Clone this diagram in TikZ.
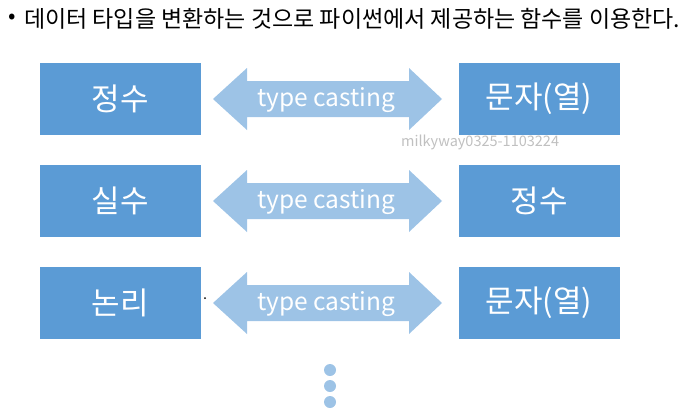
\documentclass[tikz,border=0pt]{standalone}
\usepackage{fontspec}
\setmainfont{Noto Sans CJK KR}
\usetikzlibrary{positioning}
\definecolor{boxblue}{HTML}{5B9BD5}
\definecolor{arrowblue}{HTML}{9DC3E6}
\definecolor{markgray}{HTML}{C0C0C0}

\begin{document}
\begin{tikzpicture}[x=1pt, y=-1pt,
    typebox/.style={fill=boxblue, minimum width=161pt, minimum height=72pt, inner sep=0pt, text=white, font=\fontsize{31}{34}\selectfont},
    castlbl/.style={text=white, font=\fontsize{24.5}{28}\selectfont, inner sep=0pt},
    dotmark/.style={circle, fill=arrowblue, minimum size=12pt, inner sep=0pt},
]
\useasboundingbox (0,0) rectangle (696,418);

% Title line
\node[font=\fontsize{22}{24}\selectfont, inner sep=0pt] (bullet) at (12,19) {•};
\node[anchor=west, font=\fontsize{23}{26}\selectfont, inner sep=0pt] (title) at (24,19) {데이터 타입을 변환하는 것으로 파이썬에서 제공하는 함수를 이용한다.};

% Left column
\node[typebox] (int1) at (120.5,99) {정수};
\node[typebox] (real) at (120.5,201) {실수};
\node[typebox] (bool) at (120.5,303) {논리};

% Right column
\node[typebox] (str1) at (539,99) {문자(열)};
\node[typebox] (int2) at (539,201) {정수};
\node[typebox] (str2) at (539,303) {문자(열)};

% Casting arrows
\fill[arrowblue] (213,99) -- ++(34,-31) -- ++(0,13) -- ++(162,0) -- ++(0,-13) -- ++(33,31)
    -- ++(-33,31) -- ++(0,-13) -- ++(-162,0) -- ++(0,13) -- cycle;
\fill[arrowblue] (213,201) -- ++(34,-31) -- ++(0,13) -- ++(162,0) -- ++(0,-13) -- ++(33,31)
    -- ++(-33,31) -- ++(0,-13) -- ++(-162,0) -- ++(0,13) -- cycle;
\fill[arrowblue] (213,303) -- ++(34,-31) -- ++(0,13) -- ++(162,0) -- ++(0,-13) -- ++(33,31)
    -- ++(-33,31) -- ++(0,-13) -- ++(-162,0) -- ++(0,13) -- cycle;
\node[castlbl] (cast1) at (326,100) {type casting};
\node[castlbl] (cast2) at (326,202) {type casting};
\node[castlbl] (cast3) at (326,304) {type casting};

% Watermark
\node[anchor=west, text=markgray, font=\fontsize{14.5}{16}\selectfont, inner sep=0pt] (mark) at (401,142) {milkyway0325-1103224};

% Stray dot
\fill (205,298) circle (1pt);

% More
\node[dotmark] (more1) at (330,370) {};
\node[dotmark] (more2) at (330,386) {};
\node[dotmark] (more3) at (330,402) {};

\end{tikzpicture}
\end{document}
